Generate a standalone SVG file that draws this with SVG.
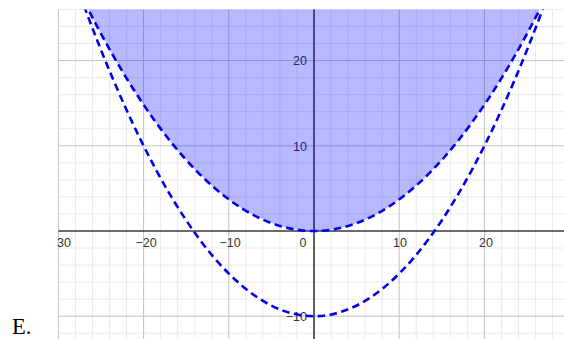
<svg xmlns="http://www.w3.org/2000/svg" width="564" height="339" viewBox="0 0 564 339">
<style>
.minor{stroke:#ebebeb;stroke-width:1;fill:none}
.major{stroke:#c3c3c3;stroke-width:1;fill:none}
.axis{stroke:#3a3a3a;stroke-width:1.6;fill:none}
.lbl{font-family:"Liberation Sans",Arial,sans-serif;font-size:12.5px;fill:#333333}
.curve{stroke:#0000f0;stroke-width:2.6;fill:none;stroke-dasharray:7.5 4.5}
.region{fill:#0000ff;fill-opacity:0.28;stroke:none}
</style>
<defs>
<clipPath id="plot"><rect x="58.4" y="9.48" width="505.6" height="329.52"/></clipPath>
</defs>
<rect x="0" y="0" width="564" height="339" fill="#ffffff"/>
<g id="grid">
<path class="minor" d="M75.44,9.48V339M92.48,9.48V339M109.52,9.48V339M126.56,9.48V339M160.64,9.48V339M177.68,9.48V339M194.72,9.48V339M211.76,9.48V339M245.84,9.48V339M262.88,9.48V339M279.92,9.48V339M296.96,9.48V339M331.04,9.48V339M348.08,9.48V339M365.12,9.48V339M382.16,9.48V339M416.24,9.48V339M433.28,9.48V339M450.32,9.48V339M467.36,9.48V339M501.44,9.48V339M518.48,9.48V339M535.52,9.48V339M552.56,9.48V339"/>
<path class="minor" d="M58.4,9.48H564M58.4,26.52H564M58.4,43.56H564M58.4,77.64H564M58.4,94.68H564M58.4,111.72H564M58.4,128.76H564M58.4,162.84H564M58.4,179.88H564M58.4,196.92H564M58.4,213.96H564M58.4,248.04H564M58.4,265.08H564M58.4,282.12H564M58.4,299.16H564M58.4,333.24H564"/>
<path class="major" d="M58.4,9.48V339M143.6,9.48V339M228.8,9.48V339M399.2,9.48V339M484.4,9.48V339M58.4,60.6H564M58.4,145.8H564M58.4,316.2H564"/>
</g>
<g id="axes">
<path class="axis" d="M58.4,231H564M314,9.48V339"/>
</g>
<g id="labels">
<text class="lbl" x="57" y="247">30</text>
<text class="lbl" x="146" y="247" text-anchor="middle">−20</text>
<text class="lbl" x="230" y="247" text-anchor="middle">−10</text>
<text class="lbl" x="303" y="247" text-anchor="middle">0</text>
<text class="lbl" x="400" y="247" text-anchor="middle">10</text>
<text class="lbl" x="486" y="247" text-anchor="middle">20</text>
<text class="lbl" x="307" y="65" text-anchor="end">20</text>
<text class="lbl" x="307" y="150.5" text-anchor="end">10</text>
<text class="lbl" x="307" y="321" text-anchor="end">−10</text>
</g>
<g id="region" clip-path="url(#plot)">
<path class="region" d="M83.96,0.96 Q314,461.04 544.04,0.96 Z"/>
</g>
<g id="curves" clip-path="url(#plot)">
<path class="curve" d="M83.96,0.96 Q314,461.04 544.04,0.96"/>
<path class="curve" d="M83.96,5.65 Q314,626.75 544.04,5.65"/>
</g>
<text x="12" y="334" font-family="'Liberation Serif','Times New Roman',serif" font-size="22.5" fill="#000000">E.</text>
</svg>
